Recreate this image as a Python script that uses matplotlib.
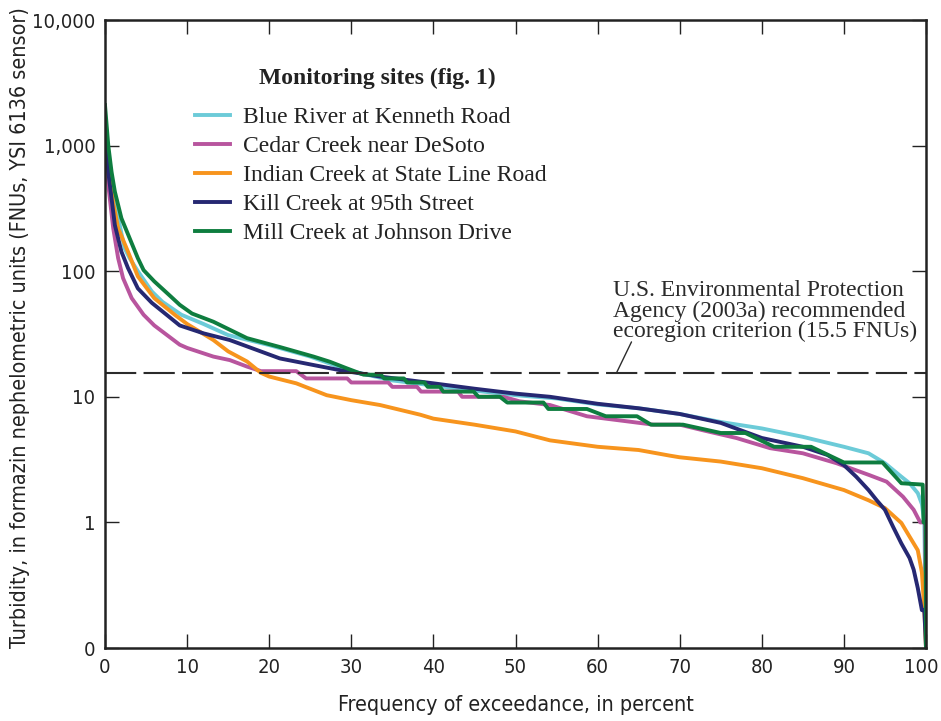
import matplotlib
matplotlib.use('Agg')
import matplotlib.pyplot as plt
from matplotlib import font_manager as fm
from matplotlib.transforms import ScaledTranslation
import numpy as np

# Frequency of exceedance (percent) and turbidity (FNU)
blue_x = [0, 0.3, 1, 2, 2.4, 3, 4, 5.7, 7, 9.3, 12, 15, 20, 25, 30, 35, 40, 45, 50,
          55, 60, 65, 70, 75, 80, 85, 90, 93, 95, 97, 98, 99, 99.5, 99.8, 100]
blue_y = [1600, 900, 420, 200, 152, 127, 100, 69, 57, 45, 38, 31, 25.8, 20.9, 16, 13.5,
          12.3, 11.2, 10.3, 9.7, 8.7, 8.1, 7.3, 6.3, 5.6, 4.8, 4.0, 3.55, 2.96, 2.31,
          2.05, 1.71, 1.4, 1.0, 0]

cedar_x = [0, 0.4, 1, 1.6, 2.2, 3.25, 4.7, 6, 9.1, 10, 13.2, 15.2, 17.3, 19, 23.3, 24.5,
           29.5, 30, 34.5, 35, 38, 38.5, 43, 43.5, 48.5, 50.5, 54.2, 58.7, 66.8, 70,
           72.9, 76.9, 81, 85, 89.1, 93.1, 95.2, 97.2, 98.5, 99.3, 99.9, 100]
cedar_y = [1000, 485, 220, 127, 88, 61, 45, 37, 26, 24.5, 20.9, 19.6, 17.4, 16, 16, 14,
           14, 13, 13, 12, 12, 11, 11, 10, 10, 9.2, 8.6, 7.0, 6.0, 6.0,
           5.4, 4.7, 3.9, 3.55, 2.96, 2.38, 2.11, 1.6, 1.26, 1.0, 1.0, 0]

indian_x = [0, 0.5, 1, 1.6, 2.8, 4, 6, 8.5, 10, 13.2, 15, 17.3, 19, 20, 23.3, 27, 30,
            33.5, 38.4, 40, 45, 50, 54.2, 60, 65, 68.8, 70, 75, 80, 85, 90, 93, 95,
            97, 98, 99, 99.5, 99.8, 100]
indian_y = [1400, 650, 350, 220, 143, 91, 61, 45, 38, 28.3, 23, 19.1, 15.5, 14.5, 12.8,
            10.3, 9.4, 8.6, 7.2, 6.7, 6.0, 5.3, 4.5, 4.0, 3.77, 3.4, 3.3, 3.05, 2.7,
            2.25, 1.81, 1.5, 1.3, 0.99, 0.77, 0.60, 0.4, 0.2, 0]

kill_x = [0, 0.4, 1.2, 2, 2.8, 4, 5.7, 7.5, 9.1, 12, 15.2, 21.3, 25.4, 28.6, 33.5,
          38.4, 40, 45, 50, 54.2, 60, 65, 70, 75, 80, 85, 88, 90, 91.5, 93, 94, 95,
          96, 97, 98, 98.5, 99, 99.5, 99.8, 100]
kill_y = [1300, 617, 233, 143, 106, 73, 56, 45, 37, 32, 28.3, 20.2, 17.9, 16.3, 14.5,
          13.2, 12.8, 11.6, 10.6, 10.0, 8.8, 8.1, 7.3, 6.2, 4.7, 4.0, 3.44, 2.86, 2.31,
          1.81, 1.5, 1.26, 0.92, 0.68, 0.52, 0.42, 0.30, 0.2, 0.2, 0]

mill_x = [0, 0.4, 0.8, 1.2, 2, 3, 4, 4.7, 6, 8, 9.1, 10.6, 13.2, 17.3, 21.3, 25.4,
          27.4, 29.4, 31.5, 33.6, 34, 36.4, 36.8, 38.9, 39.3, 40.8, 41.2, 44.9, 45.5,
          48.1, 49, 53.4, 54, 58.7, 61, 64.8, 66.5, 70.4, 72.5, 75, 78, 81.5, 86,
          90, 94.7, 97, 99.6, 99.7, 99.95, 100]
mill_y = [2100, 1000, 617, 430, 264, 183, 127, 102, 83, 63, 54, 46, 39.6, 29.3, 24.9,
          20.9, 19, 16.9, 15, 15, 14, 14, 13, 13, 12, 12, 11, 11, 10,
          10, 9, 9, 8, 8, 7, 7, 6, 6, 5.6, 5.15, 5.15, 4, 4,
          3, 3, 2.05, 2, 1, 1, 0]

site_names = ['Blue River at Kenneth Road', 'Cedar Creek near DeSoto',
              'Indian Creek at State Line Road', 'Kill Creek at 95th Street',
              'Mill Creek at Johnson Drive']
site_colors = ['#6ccbd8', '#b8559e', '#f7941d', '#262872', '#0e7d3f']

epa_criterion = 15.5
ytick_vals = [0.1, 1, 10, 100, 1000, 10000]
ytick_labels = ['0', '1', '10', '100', '1,000', '10,000']
xtick_vals = list(range(0, 101, 10))


def narrow_font():
    # look for a condensed sans face; fall back to Liberation Sans
    prefs = ['LiberationSansNarrow-Regular', 'DejaVuSansCondensed.', 'RobotoCondensed-Regular',
             'OpenSans_Condensed-Regular', 'NotoSans-Condensed', 'Condensed-Regular',
             'Narrow-Regular']
    files = [f.fname for f in fm.fontManager.ttflist]
    for p in prefs:
        for fn in files:
            if p in fn.split('/')[-1]:
                return fm.FontProperties(fname=fn), 1.0
    return fm.FontProperties(family='Liberation Sans'), 0.95


sans_fp, scale = narrow_font()
serif = ['Liberation Serif', 'DejaVu Serif']
ink = '#222222'

fig = plt.figure(figsize=(9.41, 7.21), dpi=100)
ax = fig.add_axes([105 / 941, 1 - 648 / 721, 821 / 941, 628 / 721])

series = [(blue_x, blue_y), (cedar_x, cedar_y), (indian_x, indian_y),
          (kill_x, kill_y), (mill_x, mill_y)]
for (xs, ys), name, col in zip(series, site_names, site_colors):
    ys = np.array(ys, dtype=float)
    ys = np.where(ys <= 0, 0.1, ys)  # zero sits on the "0" line
    ax.plot(xs, ys, color=col, lw=2.8, label=name)

ax.axhline(epa_criterion, color='#2b2b2b', lw=1.5, dashes=(15, 3.5))

ax.set_yscale('log')
ax.set_ylim(0.1, 10000)
ax.set_xlim(0, 100)
ax.set_yticks(ytick_vals)
ax.set_yticklabels(ytick_labels)
ax.yaxis.set_minor_locator(matplotlib.ticker.NullLocator())
ax.set_xticks(xtick_vals)

ax.tick_params(which='major', direction='in', length=10, width=1,
               top=True, right=True, pad=7, color=ink)
for lab in ax.get_xticklabels() + ax.get_yticklabels():
    lab.set_fontproperties(sans_fp)
    lab.set_fontsize(14.5 * scale)
    lab.set_color(ink)
for sp in ax.spines.values():
    sp.set_linewidth(1.8)
    sp.set_color(ink)

# nudge the "100" label in a little so it stays on the page
last = ax.xaxis.get_major_ticks()[-1].label1
last.set_transform(last.get_transform() + ScaledTranslation(-5 / 100, 0, fig.dpi_scale_trans))

xl = ax.set_xlabel('Frequency of exceedance, in percent', color=ink)
yl = ax.set_ylabel('Turbidity, in formazin nephelometric units (FNUs, YSI 6136 sensor)',
                   color=ink)
for t in (xl, yl):
    t.set_fontproperties(sans_fp)
    t.set_fontsize(15.4 * scale)
ax.xaxis.set_label_coords(0.5, -(705 - 648) / 628)
ax.yaxis.set_label_coords(-(105 - 20) / 821, (648 - 328) / 628)
xl.set_va('center')
yl.set_va('center')

leg = ax.legend(loc='upper left', bbox_to_anchor=(0.1096, 0.8625), frameon=False,
                prop={'family': serif, 'size': 17},
                handlelength=1.5, handletextpad=0.55, labelspacing=0.32,
                borderpad=0, borderaxespad=0)
for t in leg.get_texts():
    t.set_color(ink)

fig.text(377 / 941, 1 - 78 / 721, 'Monitoring sites (fig. 1)', family=serif, fontsize=17,
         weight='bold', color=ink, ha='center', va='center')

fig.text(613 / 941, 1 - 280 / 721, 'U.S. Environmental Protection\nAgency (2003a) recommended\n'
         'ecoregion criterion (15.5 FNUs)', family=serif, fontsize=17,
         color='#2b2b2b', va='top', ha='left', linespacing=0.97)
ax.annotate('', xy=(62.3, epa_criterion), xytext=(15, 31), textcoords='offset pixels',
            arrowprops=dict(arrowstyle='-', lw=1, color='#2b2b2b', shrinkA=0, shrinkB=0))

fig.savefig('out.png', dpi=100)
